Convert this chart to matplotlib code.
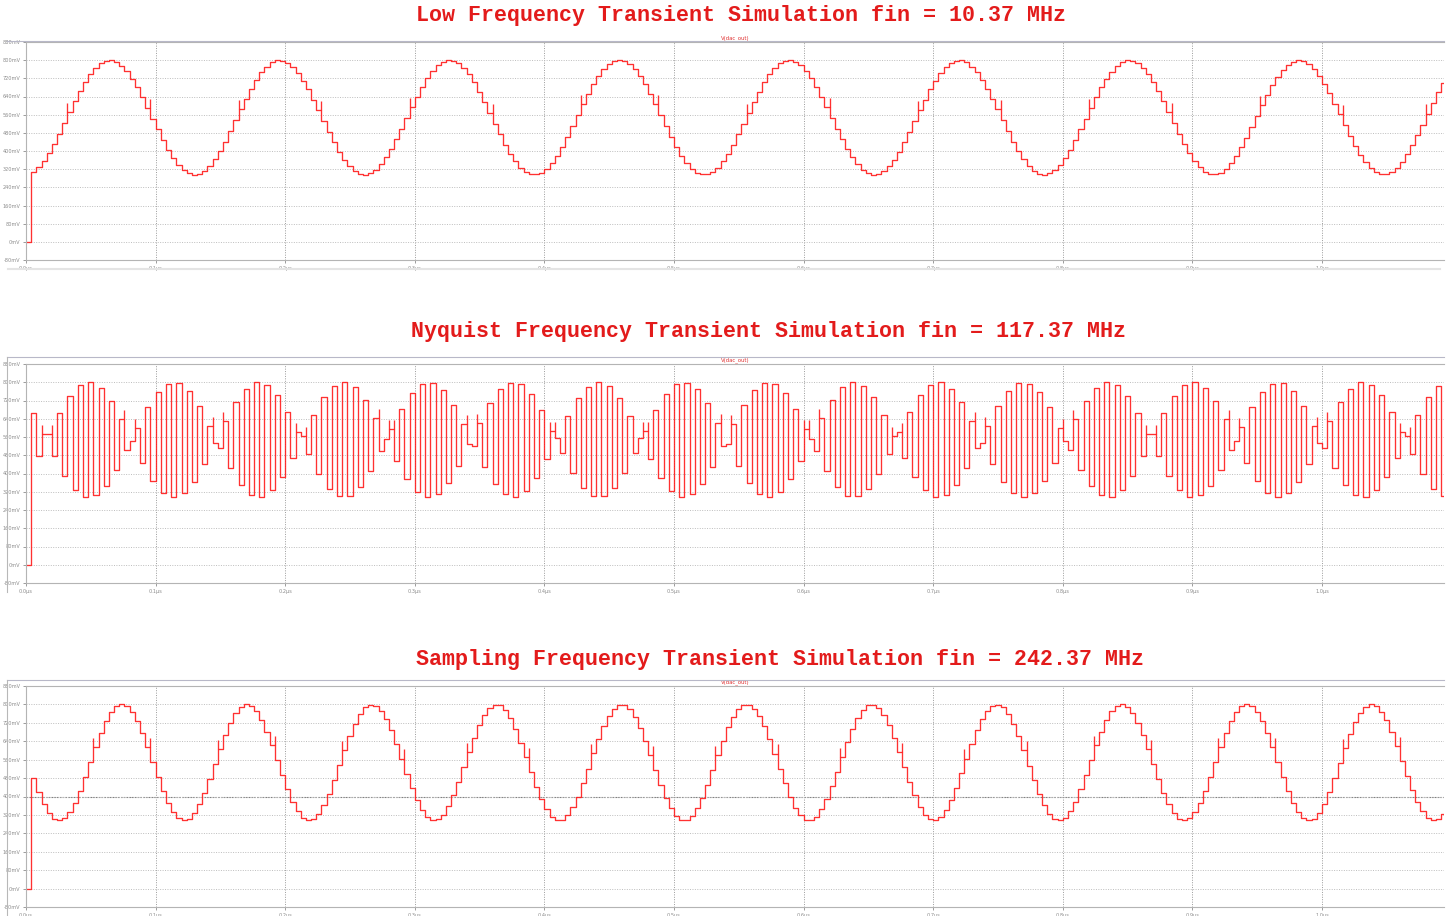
import numpy as np
import matplotlib.pyplot as plt
from matplotlib.lines import Line2D

# DAC output samples (mV), one value per 4 ns clock, first code at t = 4 ns
T_START_NS = 4.0
T_STEP_NS = 4.0

LOW = [309, 329, 357, 391, 432, 477, 524, 572, 619, 664,
       705, 739, 767, 787, 798, 799, 792, 775, 751, 719,
       680, 637, 591, 542, 495, 448, 406, 369, 339, 316,
       302, 296, 300, 313, 335, 364, 400, 441, 487, 535,
       583, 630, 674, 713, 746, 772, 790, 799, 798, 789,
       770, 744, 710, 671, 626, 580, 531, 484, 438, 397,
       362, 333, 311, 300, 296, 303, 318, 341, 372, 409,
       452, 498, 546, 594, 640, 684, 721, 753, 777, 792,
       799, 797, 786, 765, 737, 702, 661, 616, 568, 520,
       473, 428, 388, 354, 327, 308, 298, 297, 305, 322,
       348, 380, 419, 462, 509, 557, 605, 651, 693, 729,
       759, 781, 795, 800, 795, 782, 759, 729, 693, 651,
       605, 557, 509, 463, 419, 380, 348, 322, 305, 297,
       298, 308, 327, 354, 388, 428, 473, 520, 568, 616,
       661, 702, 737, 765, 786, 797, 800, 792, 777, 753,
       721, 684, 640, 594, 546, 498, 452, 409, 372, 341,
       318, 303, 296, 300, 311, 333, 362, 397, 438, 484,
       531, 580, 626, 671, 710, 744, 770, 789, 798, 799,
       790, 772, 746, 713, 674, 630, 583, 535, 487, 441,
       400, 364, 335, 313, 300, 296, 302, 316, 339, 369,
       406, 448, 495, 542, 591, 637, 680, 719, 750, 775,
       792, 799, 797, 787, 767, 739, 705, 664, 619, 572,
       524, 477, 432, 391, 357, 329, 309, 299, 297, 304,
       321, 346, 377, 416, 459, 505, 554, 602, 648, 690,
       727, 757, 780, 794, 800, 796, 783, 761, 732, 696,
       655, 609, 561, 513, 466, 422, 383, 350, 324, 306,
       297, 298, 307, 326, 352, 386, 425, 470, 516, 565,
       612, 658, 699]

NYQ = [664, 477, 572, 572, 477, 664, 391, 739, 329, 787,
       298, 799, 304, 775, 345, 719, 416, 637, 505, 542,
       601, 448, 690, 369, 757, 316, 794, 296, 796, 313,
       761, 364, 696, 441, 609, 535, 513, 630, 422, 713,
       350, 772, 306, 799, 298, 789, 326, 744, 386, 671,
       470, 580, 565, 484, 658, 397, 734, 333, 785, 300,
       800, 303, 778, 341, 724, 409, 644, 498, 550, 594,
       456, 684, 375, 753, 319, 792, 297, 797, 310, 765,
       359, 702, 435, 616, 528, 520, 623, 428, 708, 354,
       769, 308, 798, 297, 791, 322, 748, 380, 677, 462,
       587, 557, 491, 651, 403, 729, 337, 781, 301, 800,
       301, 782, 337, 729, 403, 651, 491, 557, 587, 463,
       677, 380, 748, 322, 791, 297, 798, 308, 769, 354,
       708, 428, 623, 520, 528, 616, 435, 702, 359, 765,
       310, 797, 296, 792, 319, 753, 375, 684, 456, 594,
       550, 498, 644, 409, 724, 341, 778, 303, 800, 300,
       785, 333, 734, 397, 658, 484, 565, 580, 470, 671,
       386, 744, 326, 789, 298, 799, 306, 772, 350, 713,
       422, 630, 513, 535, 609, 441, 696, 364, 761, 313,
       796, 296, 794, 316, 757, 369, 690, 448, 601, 542,
       505, 637, 416, 719, 346, 775, 304, 799, 299, 787,
       329, 739, 391, 664, 477, 572, 572, 477, 664, 391,
       739, 329, 787, 299, 799, 304, 775, 346, 719, 416,
       637, 505, 542, 602, 448, 690, 369, 757, 316, 794,
       296, 796, 313, 761, 364, 696, 441, 609, 535, 513,
       630, 422, 713, 350, 772, 306, 799, 298, 789, 326,
       744, 386, 671, 470, 580, 565, 484, 658, 397, 734,
       333, 784, 300]

SAMP = [479, 419, 367, 328, 304, 296, 306, 331, 372, 424,
        484, 549, 614, 675, 726, 766, 791, 800, 791, 766,
        727, 676, 615, 550, 486, 425, 372, 332, 306, 296,
        304, 328, 367, 417, 478, 542, 607, 668, 721, 762,
        789, 800, 793, 770, 732, 682, 622, 558, 492, 431,
        378, 336, 308, 297, 302, 325, 362, 411, 471, 535,
        600, 662, 716, 758, 787, 799, 794, 773, 737, 688,
        628, 565, 499, 437, 383, 340, 310, 297, 301, 321,
        357, 405, 464, 528, 594, 656, 711, 754, 785, 799,
        796, 776, 741, 694, 634, 572, 506, 443, 388, 344,
        312, 298, 300, 318, 353, 400, 457, 521, 587, 650,
        705, 750, 782, 798, 797, 779, 746, 699, 642, 579,
        513, 450, 393, 348, 315, 298, 298, 316, 348, 394,
        451, 514, 580, 643, 700, 746, 779, 797, 798, 782,
        750, 705, 649, 586, 520, 457, 399, 352, 318, 299,
        298, 313, 344, 389, 444, 507, 572, 636, 694, 742,
        777, 796, 799, 785, 754, 710, 656, 593, 527, 463,
        405, 356, 321, 301, 297, 310, 340, 383, 438, 500,
        565, 629, 689, 737, 773, 795, 799, 787, 758, 715,
        662, 600, 534, 470, 411, 361, 324, 302, 297, 308,
        336, 378, 431, 493, 558, 622, 682, 732, 770, 793,
        800, 789, 762, 720, 668, 606, 541, 477, 417, 366,
        327, 304, 296, 306, 332, 373, 425, 486, 551, 616,
        676, 728, 767, 791, 800, 791, 766, 726, 674, 613,
        548, 484, 423, 371, 331, 305, 296, 304, 329, 368,
        419, 480, 544, 609, 670, 723, 763, 790, 800, 792,
        769, 731, 680, 620, 555, 490, 429, 376, 335, 307,
        296, 303, 326]

TITLES = ["Low Frequency Transient Simulation fin = 10.37 MHz",
          "Nyquist Frequency Transient Simulation fin = 117.37 MHz",
          "Sampling Frequency Transient Simulation fin = 242.37 MHz"]
Y_TICKS = list(range(-80, 881, 80))
X_TICKS = [i / 10 for i in range(11)]

W, H = 1453, 916
fig = plt.figure(figsize=(W / 100, H / 100), dpi=100)
fig.patch.set_facecolor('white')

# pixel layout of each panel: (axes top, axes bottom, title left, title y, frame top)
panels = [(42, 260, 416, 15, 41),
          (364, 583, 411, 331, 357),
          (686, 907, 416, 659, 680)]

RED = '#ff1a1a'
MID_CODE = 560      # mid-scale code where the DAC glitches
GLITCH = 40

def fx(px):
    return px / W

def fy(py):
    return 1 - py / H

axes = []
for vals, title, (top, bot, tx, ty, ftop) in zip([LOW, NYQ, SAMP], TITLES, panels):
    ax = fig.add_axes([fx(26), fy(bot), fx(1444 - 26), (bot - top) / H])
    axes.append(ax)
    vals = np.asarray(vals, dtype=float)
    t = (T_START_NS + T_STEP_NS * np.arange(len(vals))) / 1000.0
    x = np.concatenate([[0.0], t, [t[-1] + T_STEP_NS / 1000.0]])
    y = np.concatenate([[0.0], vals, [vals[-1]]])
    ax.step(x, y, where='post', color=RED, lw=0.95, alpha=0.9)

    # switching glitches at mid-scale crossings
    for i in range(1, len(vals)):
        lo, hi = sorted((vals[i - 1], vals[i]))
        if lo < MID_CODE < hi and hi - lo < 150:
            ax.vlines(t[i], hi, hi + GLITCH, color=RED, lw=0.95, alpha=0.9)

    ax.set_xlim(0, (1444 - 26) / 1296)
    ax.set_ylim(-80, 880)
    ax.set_yticks(Y_TICKS)
    ax.set_yticklabels([f"{v}mV" for v in Y_TICKS])
    ax.set_xticks(X_TICKS)
    ax.set_xticklabels([f"{v:.1f}\u00b5s" for v in X_TICKS])
    ax.tick_params(labelsize=3.6, colors='#8c8c8c', length=2.5, width=0.6, pad=1.5)
    ax.grid(True, axis='y', ls=(0, (1, 1.5)), color='#bdbdbd', lw=0.7)
    ax.grid(True, axis='x', ls=(0, (1, 1.5)), color='#9a9a9a', lw=0.7)
    for side in ['left', 'bottom', 'top']:
        ax.spines[side].set_color('#b4b4b4')
        ax.spines[side].set_linewidth(0.8)
    ax.spines['right'].set_visible(False)
    ax.set_title('V(dac_out)', fontsize=3.8, color='#e03030', pad=2)

    fig.text(fx(tx), fy(ty), title, ha='left', va='center',
             family=['Liberation Mono', 'DejaVu Sans Mono'], weight='bold',
             fontsize=15.6, color='#e31b1b')

    # outer frame of the waveform window
    fig.add_artist(Line2D([fx(7), fx(1444)], [fy(ftop), fy(ftop)],
                          color='#b8b8c8', lw=0.8))

# darker cursor line at 400 mV on the last pane
axes[2].axhline(400, ls=(0, (1.5, 1)), color='#808080', lw=0.8, zorder=1)

fig.add_artist(Line2D([fx(7), fx(7)], [fy(357), fy(592)], color='#b8b8b8', lw=0.8))
fig.add_artist(Line2D([fx(7), fx(7)], [fy(680), fy(916)], color='#b8b8b8', lw=0.8))
fig.add_artist(Line2D([fx(8), fx(1440)], [fy(269), fy(269)], color='#e4e4e4', lw=1.5))

fig.savefig('out.png', dpi=100)
